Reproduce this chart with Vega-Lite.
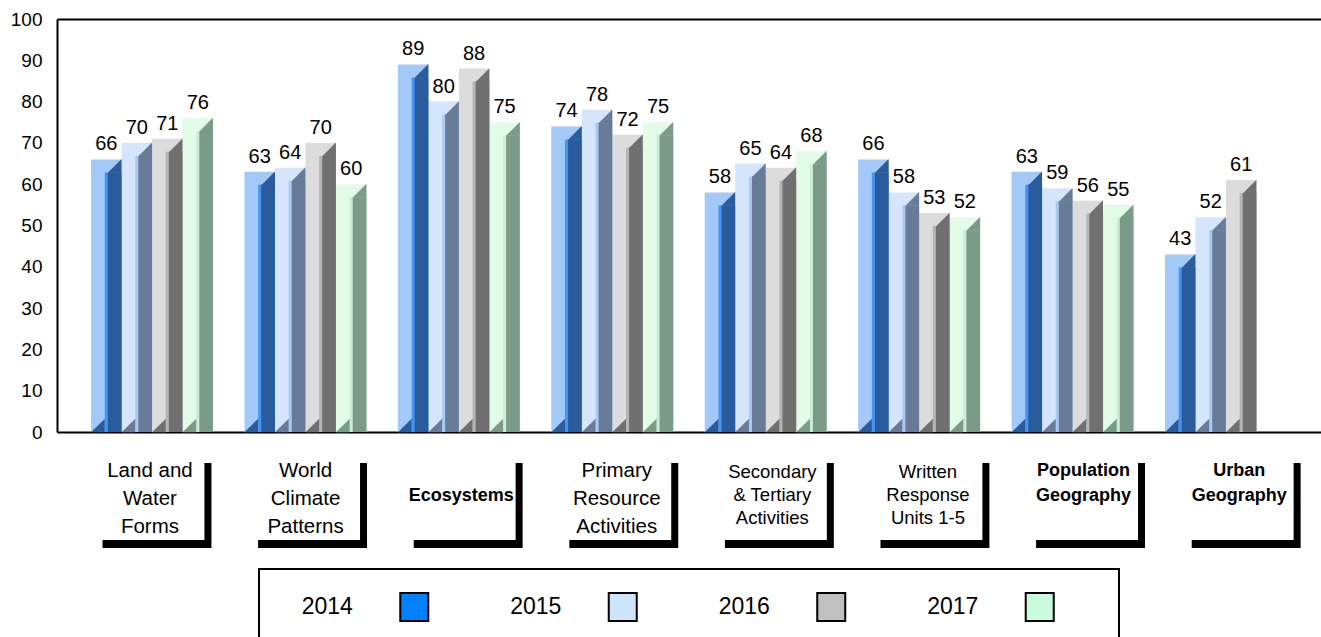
{
  "$schema": "https://vega.github.io/schema/vega-lite/v6.json",
  "padding": {"left": 10, "top": 10, "right": 0, "bottom": 0},
  "background": "white",
  "bounds": "flush",
  "center": true,
  "spacing": 24,
  "config": {"font": "Liberation Sans", "view": {"stroke": null}, "text": {"color": "black"}},
  "datasets": {
    "scores": [
      {"category": "Land and Water Forms", "year": "2014", "score": 66},
      {"category": "Land and Water Forms", "year": "2015", "score": 70},
      {"category": "Land and Water Forms", "year": "2016", "score": 71},
      {"category": "Land and Water Forms", "year": "2017", "score": 76},
      {"category": "World Climate Patterns", "year": "2014", "score": 63},
      {"category": "World Climate Patterns", "year": "2015", "score": 64},
      {"category": "World Climate Patterns", "year": "2016", "score": 70},
      {"category": "World Climate Patterns", "year": "2017", "score": 60},
      {"category": "Ecosystems", "year": "2014", "score": 89},
      {"category": "Ecosystems", "year": "2015", "score": 80},
      {"category": "Ecosystems", "year": "2016", "score": 88},
      {"category": "Ecosystems", "year": "2017", "score": 75},
      {"category": "Primary Resource Activities", "year": "2014", "score": 74},
      {"category": "Primary Resource Activities", "year": "2015", "score": 78},
      {"category": "Primary Resource Activities", "year": "2016", "score": 72},
      {"category": "Primary Resource Activities", "year": "2017", "score": 75},
      {"category": "Secondary & Tertiary Activities", "year": "2014", "score": 58},
      {"category": "Secondary & Tertiary Activities", "year": "2015", "score": 65},
      {"category": "Secondary & Tertiary Activities", "year": "2016", "score": 64},
      {"category": "Secondary & Tertiary Activities", "year": "2017", "score": 68},
      {"category": "Written Response Units 1-5", "year": "2014", "score": 66},
      {"category": "Written Response Units 1-5", "year": "2015", "score": 58},
      {"category": "Written Response Units 1-5", "year": "2016", "score": 53},
      {"category": "Written Response Units 1-5", "year": "2017", "score": 52},
      {"category": "Population Geography", "year": "2014", "score": 63},
      {"category": "Population Geography", "year": "2015", "score": 59},
      {"category": "Population Geography", "year": "2016", "score": 56},
      {"category": "Population Geography", "year": "2017", "score": 55},
      {"category": "Urban Geography", "year": "2014", "score": 43},
      {"category": "Urban Geography", "year": "2015", "score": 52},
      {"category": "Urban Geography", "year": "2016", "score": 61}
    ],
    "labels": [
      {"category": "Land and Water Forms", "label": "Land and\nWater\nForms"},
      {"category": "World Climate Patterns", "label": "World\nClimate\nPatterns"},
      {"category": "Ecosystems", "label": "Ecosystems"},
      {"category": "Primary Resource Activities", "label": "Primary\nResource\nActivities"},
      {"category": "Secondary & Tertiary Activities", "label": "Secondary\n& Tertiary\nActivities"},
      {"category": "Written Response Units 1-5", "label": "Written\nResponse\nUnits 1-5"},
      {"category": "Population Geography", "label": "Population\nGeography"},
      {"category": "Urban Geography", "label": "Urban\nGeography"}
    ],
    "years": [
      {"year": "2014"}, {"year": "2015"}, {"year": "2016"}, {"year": "2017"}
    ]
  },
  "vconcat": [
    {
      "width": 1264,
      "height": 413,
      "data": {"name": "scores"},
      "encoding": {
        "y": {"field": "score", "type": "quantitative", "scale": {"domain": [0, 100], "nice": false},
          "axis": {"values": [0, 10, 20, 30, 40, 50, 60, 70, 80, 90, 100], "ticks": false, "grid": false, "domain": true, "domainColor": "black", "domainWidth": 2, "labelFontSize": 19, "labelColor": "black", "labelPadding": 15, "title": null}}
      },
      "layer": [
        {
          "mark": {"type": "bar"},
          "encoding": {
            "x": {"field": "category", "type": "nominal", "sort": null, "scale": {"domain": ["Land and Water Forms", "World Climate Patterns", "Ecosystems", "Primary Resource Activities", "Secondary & Tertiary Activities", "Written Response Units 1-5", "Population Geography", "Urban Geography"], "paddingInner": 0.205, "paddingOuter": 0.222},
              "axis": {"orient": "bottom", "labels": false, "ticks": false, "domain": true, "domainColor": "black", "domainWidth": 2, "title": null, "grid": false}},
            "xOffset": {"field": "year", "type": "nominal", "scale": {"paddingInner": 0, "paddingOuter": 0}},
            "color": {"field": "year", "type": "nominal", "scale": {"domain": ["2014", "2015", "2016", "2017"], "range": ["#a3c9f9", "#d5e6fc", "#dcdcdc", "#e3fce8"]}, "legend": null}
          }
        },
        {
          "mark": {"type": "bar", "yOffset": 13, "clip": true},
          "encoding": {
            "x": {"field": "category", "type": "nominal", "sort": null, "axis": null},
            "xOffset": {"field": "year", "type": "nominal", "scale": {"paddingInner": 0.45, "paddingOuter": 0.225, "align": 1}},
            "color": {"field": "year", "type": "nominal", "scale": {"domain": ["2014", "2015", "2016", "2017"], "range": ["#4594f5", "#a9c9f2", "#b5b5b5", "#c9eed5"]}, "legend": null}
          }
        },
        {
          "mark": {"type": "bar", "yOffset": 13, "clip": true},
          "encoding": {
            "x": {"field": "category", "type": "nominal", "sort": null, "axis": null},
            "xOffset": {"field": "year", "type": "nominal", "scale": {"paddingInner": 0.55, "paddingOuter": 0.275, "align": 1}},
            "color": {"field": "year", "type": "nominal", "scale": {"domain": ["2014", "2015", "2016", "2017"], "range": ["#2a5b9d", "#687b98", "#707070", "#7b9a87"]}, "legend": null}
          }
        },
        {
          "mark": {"type": "point", "shape": "M-1,1L1,1L1,-1Z", "filled": true, "size": 188, "yOffset": 6.5, "opacity": 1, "strokeWidth": 0},
          "encoding": {
            "x": {"field": "category", "type": "nominal", "sort": null, "axis": null},
            "xOffset": {"field": "year", "type": "nominal", "scale": {"type": "point", "padding": 0.5, "align": 0.775}},
            "color": {"field": "year", "type": "nominal", "scale": {"domain": ["2014", "2015", "2016", "2017"], "range": ["#2a5b9d", "#687b98", "#707070", "#7b9a87"]}, "legend": null}
          }
        },
        {
          "mark": {"type": "point", "shape": "M-1,1L1,1L1,-1Z", "filled": true, "size": 188, "yOffset": -6.5, "opacity": 1, "strokeWidth": 0},
          "encoding": {
            "x": {"field": "category", "type": "nominal", "sort": null, "axis": null},
            "y": {"datum": 0, "type": "quantitative"},
            "xOffset": {"field": "year", "type": "nominal", "scale": {"type": "point", "padding": 0.5, "align": 0.225}},
            "color": {"field": "year", "type": "nominal", "scale": {"domain": ["2014", "2015", "2016", "2017"], "range": ["#2a5b9d", "#687b98", "#707070", "#7b9a87"]}, "legend": null}
          }
        },
        {
          "mark": {"type": "text", "baseline": "alphabetic", "dy": -9, "fontSize": 20, "color": "black"},
          "encoding": {
            "x": {"field": "category", "type": "nominal", "sort": null,
              "axis": {"orient": "top", "labels": false, "ticks": false, "domain": true, "domainColor": "black", "domainWidth": 2, "title": null, "grid": false}},
            "xOffset": {"field": "year", "type": "nominal", "scale": {"type": "point", "padding": 0.5}},
            "text": {"field": "score", "type": "quantitative"}
          }
        }
      ],
      "resolve": {"scale": {"xOffset": "independent", "color": "independent"}, "axis": {"x": "independent"}}
    },
    {
      "width": 1264,
      "height": 89,
      "data": {"name": "labels"},
      "encoding": {
        "x": {"field": "category", "type": "nominal", "sort": null, "scale": {"domain": ["Land and Water Forms", "World Climate Patterns", "Ecosystems", "Primary Resource Activities", "Secondary & Tertiary Activities", "Written Response Units 1-5", "Population Geography", "Urban Geography"], "paddingInner": 0, "paddingOuter": 0.0617, "align": 0.79}, "axis": null}
      },
      "layer": [
        {"mark": {"type": "bar", "color": "black", "width": {"band": 0.7}, "xOffset": 7, "yOffset": 7, "y2Offset": 3},
          "encoding": {"y": {"datum": 1, "type": "quantitative", "scale": {"domain": [0, 1], "nice": false, "zero": false}, "axis": null}, "y2": {"datum": 0}}},
        {"mark": {"type": "bar", "color": "white", "width": {"band": 0.7}, "y2Offset": -5},
          "encoding": {"y": {"datum": 1, "type": "quantitative", "scale": {"domain": [0, 1], "nice": false, "zero": false}, "axis": null}, "y2": {"datum": 0}}},
        {
          "transform": [{"filter": {"field": "category", "oneOf": ["Land and Water Forms", "World Climate Patterns", "Primary Resource Activities"]}}],
          "mark": {"type": "text", "fontSize": 20.5, "lineHeight": 28, "lineBreak": "\n", "dy": -30, "color": "black"},
          "encoding": {"text": {"field": "label"}}
        },
        {
          "transform": [{"filter": {"field": "category", "oneOf": ["Secondary & Tertiary Activities", "Written Response Units 1-5"]}}],
          "mark": {"type": "text", "fontSize": 18.5, "lineHeight": 23, "lineBreak": "\n", "dy": -29, "color": "black"},
          "encoding": {"text": {"field": "label"}}
        },
        {
          "transform": [{"filter": {"field": "category", "oneOf": ["Ecosystems"]}}],
          "mark": {"type": "text", "fontSize": 18, "fontWeight": "bold", "lineBreak": "\n", "dy": -4.5, "color": "black"},
          "encoding": {"text": {"field": "label"}}
        },
        {
          "transform": [{"filter": {"field": "category", "oneOf": ["Population Geography", "Urban Geography"]}}],
          "mark": {"type": "text", "fontSize": 18, "fontWeight": "bold", "lineHeight": 25, "lineBreak": "\n", "dy": -30, "color": "black"},
          "encoding": {"text": {"field": "label"}}
        }
      ]
    },
    {
      "width": 860,
      "height": 76,
      "view": {"stroke": "black", "strokeWidth": 2},
      "data": {"name": "years"},
      "encoding": {
        "x": {"field": "year", "type": "nominal", "scale": {"type": "point", "padding": 0.5625}, "axis": null}
      },
      "layer": [
        {"mark": {"type": "text", "fontSize": 23, "dx": -49, "dy": 0, "color": "black"}, "encoding": {"text": {"field": "year"}}},
        {"mark": {"type": "point", "shape": "square", "filled": true, "size": 784, "stroke": "black", "strokeWidth": 2, "xOffset": 38, "yOffset": 0, "opacity": 1},
          "encoding": {"color": {"field": "year", "type": "nominal", "scale": {"domain": ["2014", "2015", "2016", "2017"], "range": ["#0080ff", "#cce4fc", "#c0c0c0", "#c8fcdc"]}, "legend": null}}}
      ]
    }
  ]
}
